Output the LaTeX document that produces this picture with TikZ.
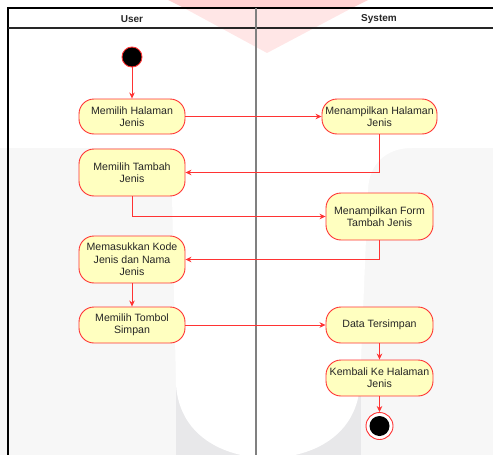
\documentclass[tikz,border=0pt]{standalone}
\usepackage{fontspec}
\setmainfont{Liberation Sans}
\usetikzlibrary{arrows.meta}
\definecolor{actfill}{HTML}{FFFFC0}
\definecolor{actline}{HTML}{FF3333}
\definecolor{txt}{HTML}{262626}
\definecolor{lanegray}{HTML}{808080}
\definecolor{wmpinkA}{HTML}{FFD2D2}
\definecolor{wmpinkB}{HTML}{FFE6E6}
\definecolor{wmgray}{HTML}{F7F7F7}
\definecolor{wmdark}{HTML}{E8E8EA}
\tikzset{
  activity/.style={draw=actline, fill=actfill, line width=0.9pt, rounded corners=15pt,
    align=center, text=txt, inner sep=1pt, minimum width=106pt,
    font=\fontsize{10.6}{12.3}\selectfont},
  startstate/.style={circle, draw=actline, fill=black, line width=0.9pt, minimum size=20pt, inner sep=0pt},
  endring/.style={circle, draw=actline, fill=white, line width=0.9pt, minimum size=27pt, inner sep=0pt},
  enddot/.style={circle, fill=black, minimum size=20pt, inner sep=0pt},
  flow/.style={draw=actline, line width=0.8pt, -{Stealth[length=6pt,width=5.5pt]}},
  lanetitle/.style={font=\fontsize{10}{12}\selectfont\bfseries, text=txt},
}
\begin{document}
\begin{tikzpicture}[x=1pt, y=-1pt]
\useasboundingbox (0,0) rectangle (493,455);
\clip (0,0) rectangle (493,455);

% faint background emblem
\fill[wmgray] (0,148) rectangle (493,455);
\fill[wmdark] (176,380) rectangle (361,455);
\fill[white] (171,148) -- (176,385) .. controls (180,440) and (230,458) .. (268,458)
  .. controls (306,458) and (356,440) .. (360,385) -- (368,190)
  .. controls (369,165) and (385,148) .. (412,148) -- cycle;
\fill[wmpinkA] (168,0) -- (368,0) -- (352,8) -- (184,8) -- cycle;
\fill[wmpinkB] (184,8) -- (352,8) -- (267,53) -- cycle;

% swimlane frame
\draw[black, line width=1.1pt] (8,470) -- (8,8) -- (502,8) -- (502,470);
\draw[black!85, line width=1.1pt] (8,28) -- (502,28);
\draw[lanegray, line width=1.4pt] (256,8) -- (256,470);
\node[lanetitle] (userlane) at (132,19) {User};
\node[lanetitle] (syslane) at (379,19) {System};

% activities
\node[startstate] (start) at (132,57) {};
\node[activity, minimum height=35pt] (n1) at (132,116.5) {Memilih Halaman\\Jenis};
\node[activity, minimum height=35pt, minimum width=115pt] (n2) at (379.5,116.5) {Menampilkan Halaman\\Jenis};
\node[activity, minimum height=47pt] (n3) at (132,172.5) {Memilih Tambah\\Jenis};
\node[activity, minimum height=47pt, minimum width=107pt] (n4) at (379.5,216.5) {Menampilkan Form\\Tambah Jenis};
\node[activity, minimum height=47pt] (n5) at (132,259.5) {Memasukkan Kode\\Jenis dan Nama\\Jenis};
\node[activity, minimum height=36pt] (n6) at (132,325) {Memilih Tombol\\Simpan};
\node[activity, minimum height=36pt, minimum width=107pt] (n7) at (379.5,325) {Data Tersimpan};
\node[activity, minimum height=36pt, minimum width=107pt] (n8) at (379.5,378) {Kembali Ke Halaman\\Jenis};
\node[endring] (finish) at (379.5,426) {};
\node[enddot] (finishdot) at (379.5,426) {};

% control flow
\draw[flow] (start) -- (n1);
\draw[flow] (n1) -- (n2);
\draw[flow] (n2) |- (n3);
\draw[flow] (n3) |- (n4);
\draw[flow] (n4) |- (n5);
\draw[flow] (n5) -- (n6);
\draw[flow] (n6) -- (n7);
\draw[flow] (n7) -- (n8);
\draw[flow] (n8) -- (finish);
\end{tikzpicture}
\end{document}
